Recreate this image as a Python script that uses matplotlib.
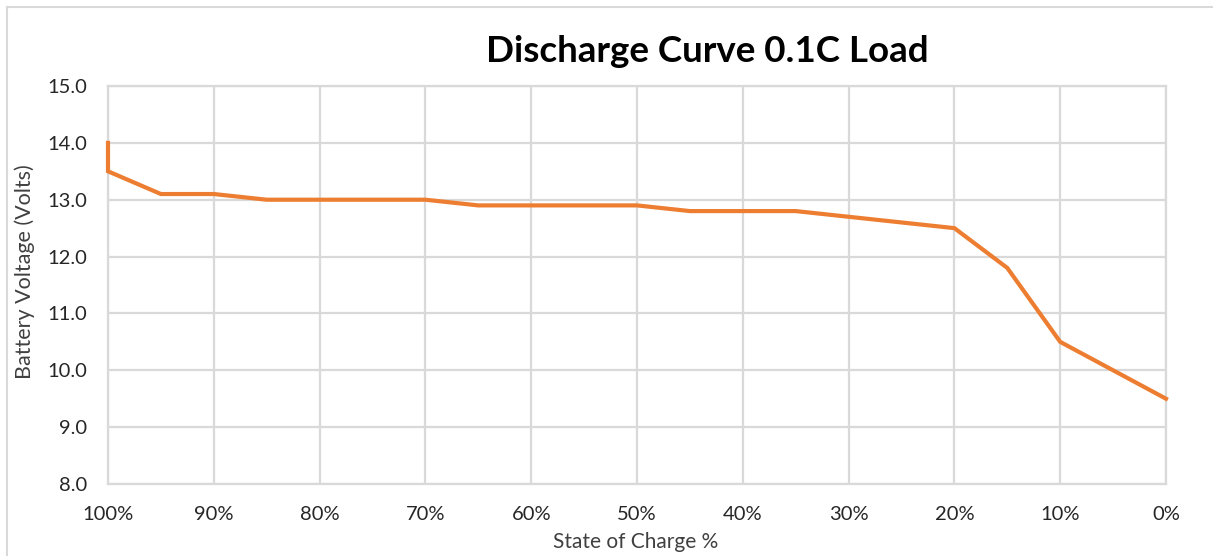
import matplotlib.pyplot as plt
from matplotlib.lines import Line2D
from matplotlib.ticker import FuncFormatter, MultipleLocator

plt.rcParams['font.family'] = ['Lato', 'DejaVu Sans']

# State of charge (%) and voltage readings
soc = [100, 100, 95, 90, 85, 80, 75, 70, 65, 60, 55, 50, 45, 40, 35, 30, 25, 20, 15, 10, 5, 0]
volts = [14.0, 13.5, 13.1, 13.1, 13.0, 13.0, 13.0, 13.0, 12.9, 12.9, 12.9, 12.9,
         12.8, 12.8, 12.8, 12.7, 12.6, 12.5, 11.8, 10.5, 10.0, 9.5]

W, H = 1213, 556
fig = plt.figure(figsize=(W / 100, H / 100), dpi=100)
ax = fig.add_axes([108 / W, 1 - 484 / H, (1166 - 108) / W, (484 - 86) / H])

grid_col = '#D9D9D9'
ax.plot(soc, volts, color='#ED7D31', lw=3, solid_joinstyle='miter', zorder=3, clip_on=False)

ax.set_xlim(100, 0)
ax.set_ylim(8, 15)
ax.xaxis.set_major_locator(MultipleLocator(10))
ax.yaxis.set_major_locator(MultipleLocator(1))
ax.xaxis.set_major_formatter(FuncFormatter(lambda v, p: f"{int(round(v))}%"))
ax.yaxis.set_major_formatter(FuncFormatter(lambda v, p: f"{v:.1f}"))
ax.grid(True, color=grid_col, lw=1.6)
for s in ax.spines.values():
    s.set_color(grid_col)
    s.set_linewidth(1.6)
ax.tick_params(length=0, labelsize=14.5, labelcolor='#262626')
ax.tick_params(axis='x', pad=16)
ax.tick_params(axis='y', pad=15)

# axis titles placed like the spreadsheet chart
fig.text(636 / W, 1 - 542 / H, "State of Charge %", ha='center', va='center',
         fontsize=15, color='#404040')
fig.text(25 / W, 1 - 272 / H, "Battery Voltage (Volts)", ha='center', va='center',
         rotation=90, fontsize=15.5, color='#404040')

fig.text(707 / W, 1 - 52 / H, "Discharge Curve 0.1C Load", ha='center', va='center',
         fontsize=26.5, fontweight='bold', color='black')

# chart area border
fig.add_artist(Line2D([7 / W, 7 / W], [0, 1 - 7 / H], color=grid_col, lw=1.5))
fig.add_artist(Line2D([7 / W, 1], [1 - 7 / H, 1 - 7 / H], color=grid_col, lw=1.5))

fig.savefig("out.png", dpi=100, facecolor='white')
